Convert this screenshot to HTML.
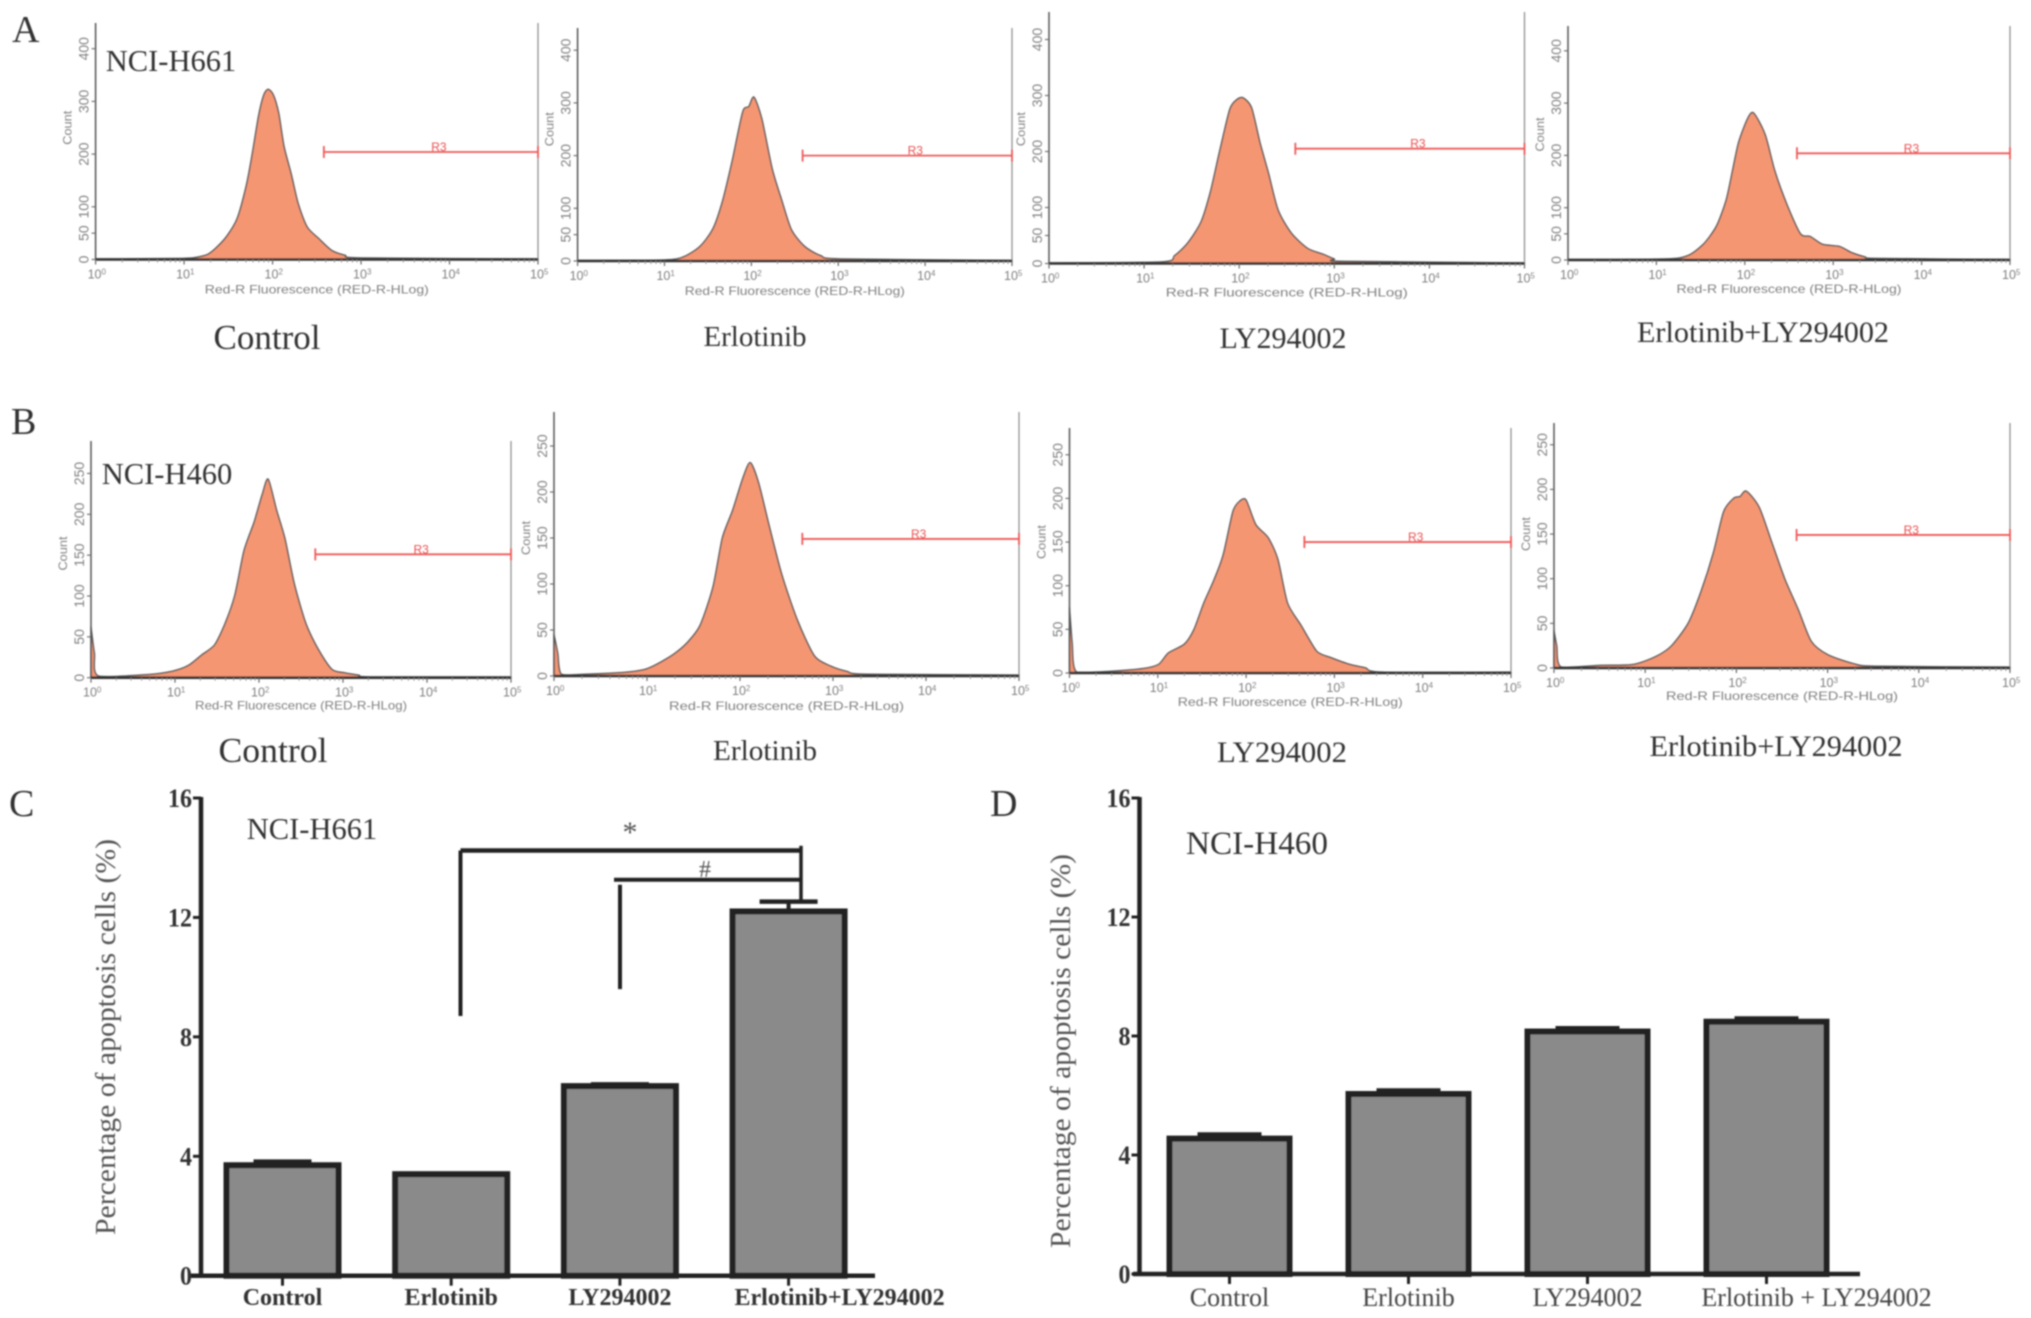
<!DOCTYPE html>
<html lang="en">
<head>
<meta charset="utf-8">
<title>Apoptosis flow cytometry and bar charts</title>
<style>
html,body{margin:0;padding:0;background:#fff;width:2031px;height:1318px;overflow:hidden}
svg{display:block}
text{font-family:"Liberation Serif",serif}
.flow{font-family:"Liberation Sans",sans-serif;fill:#808080}
.big{fill:#333;text-anchor:middle}
</style>
</head>
<body>
<svg id="figure" xmlns="http://www.w3.org/2000/svg" width="2031" height="1318" viewBox="0 0 2031 1318">
<defs><filter id="soft" x="0" y="0" width="100%" height="100%"><feGaussianBlur stdDeviation="0.7"/></filter></defs>
<rect width="2031" height="1318" fill="#fff"/>
<g id="root" filter="url(#soft)">
<text x="12" y="42" font-size="38" fill="#333">A</text>
<text x="11" y="434" font-size="38" fill="#333">B</text>
<text x="9" y="816" font-size="38" fill="#333">C</text>
<text x="990" y="816" font-size="38" fill="#333">D</text>

<text class="big" x="171" y="71" font-size="30.5">NCI-H661</text>
<text class="big" x="167" y="484" font-size="30.5">NCI-H460</text>
<text class="big" x="312" y="839" font-size="30.5" fill="#444">NCI-H661</text>
<text class="big" x="1257" y="854" font-size="33" fill="#444" textLength="142" lengthAdjust="spacingAndGlyphs">NCI-H460</text>

<text class="big" x="267" y="349" font-size="35">Control</text>
<text class="big" x="755" y="346" font-size="29">Erlotinib</text>
<text class="big" x="1283" y="348" font-size="30">LY294002</text>
<text class="big" x="1763" y="342" font-size="30" textLength="252" lengthAdjust="spacingAndGlyphs">Erlotinib+LY294002</text>
<text class="big" x="273" y="762" font-size="35" textLength="109" lengthAdjust="spacingAndGlyphs">Control</text>
<text class="big" x="765" y="760" font-size="29" textLength="104" lengthAdjust="spacingAndGlyphs">Erlotinib</text>
<text class="big" x="1282" y="762" font-size="30" textLength="130" lengthAdjust="spacingAndGlyphs">LY294002</text>
<text class="big" x="1776" y="756" font-size="30" textLength="253" lengthAdjust="spacingAndGlyphs">Erlotinib+LY294002</text>

<g id="flow-panels"></g>
<g id="bar-charts"></g>

<text x="630" y="842" font-size="30" fill="#555" text-anchor="middle">*</text>
<text x="705" y="877" font-size="24" fill="#555" text-anchor="middle">#</text>
</g>
</svg>
<script>
// ---------- Flow cytometry histogram data (log10 fluorescence, event count) ----------
const a1Log=[0,0.98,1.13,1.27,1.38,1.49,1.6,1.7,1.77,1.84,1.9,1.95,2.01,2.07,2.13,2.21,2.29,2.39,2.52,2.67,2.82,3,5];
const a1Count=[1,2,4,10,25,46,78,138,200,271,312,323,312,277,214,163,106,62,40,17,8,3,1];
const a2Log=[0,1,1.22,1.41,1.56,1.67,1.78,1.9,1.97,2.03,2.12,2.24,2.35,2.46,2.61,2.8,3.03,5];
const a2Count=[1,2,8,28,62,115,190,283,293,311,270,175,115,60,28,10,4,1];
const a3Log=[0,1.19,1.32,1.46,1.6,1.7,1.8,1.9,1.97,2.04,2.13,2.22,2.31,2.41,2.55,2.72,2.89,3,3.09,5];
const a3Count=[1,3,14,37,75,130,205,275,292,296,278,215,160,95,54,27,16,8,4,1];
const a4Log=[0,1.09,1.35,1.53,1.68,1.79,1.86,1.93,2.03,2.1,2.23,2.34,2.48,2.63,2.74,2.88,3.07,3.21,3.36,3.5,5];
const a4Count=[1,2,8,30,65,115,170,225,270,281,240,170,105,50,45,30,26,14,6,3,1];
const b1Log=[0,0.04,0.09,0.7,0.97,1.16,1.32,1.47,1.59,1.71,1.82,1.94,2.04,2.11,2.21,2.31,2.42,2.56,2.71,2.87,3.02,3.19,3.33,5];
const b1Count=[62,30,2,4,8,15,28,40,65,100,155,190,225,243,205,170,115,66,34,10,6,3,1,1];
const b2Log=[0,0.04,0.08,0.34,0.76,0.97,1.11,1.29,1.43,1.57,1.71,1.81,1.92,2.03,2.11,2.2,2.31,2.45,2.62,2.8,2.97,3.15,3.36,5];
const b2Count=[45,25,2,2,4,7,13,24,36,55,97,150,180,215,232,210,165,110,60,22,11,5,2,1];
const b3Log=[0,0.03,0.08,0.46,0.83,1.01,1.12,1.3,1.41,1.52,1.63,1.74,1.85,1.93,2,2.11,2.25,2.36,2.47,2.62,2.8,2.95,3.17,3.35,3.54,5];
const b3Count=[75,35,1,2,5,10,23,33,50,80,105,135,185,197,198,170,155,130,80,55,25,18,10,6,1,1];
const b4Log=[0,0.03,0.08,0.51,0.87,1.12,1.29,1.47,1.61,1.75,1.86,1.97,2.04,2.11,2.25,2.39,2.53,2.68,2.82,3,3.28,3.53,5];
const b4Count=[42,25,1,3,4,13,25,50,85,130,175,190,192,198,180,140,100,65,30,15,5,2,1];

// Gate R3 start (log10) and drawn level (count), one per histogram
const gateStartLog=[2.58,2.59,2.59,2.59,2.67,2.67,2.66,2.66];
const gateLevel=[204,200,205,204,151,149,150,149];

// Axis ticks
const xDecades=[0,1,2,3,4,5];
const yTicksA=[0,50,100,200,300,400];
const yTicksB=[0,50,100,150,200,250];
const xTitleText='Red-R Fluorescence (RED-R-HLog)';

// ---------- Bar chart data ----------
const cCategories=['Control','Erlotinib','LY294002','Erlotinib+LY294002'];
const cValues=[3.7,3.4,6.35,12.2];
const cErrors=[0.12,0,0.06,0.33];
const dCategories=['Control','Erlotinib','LY294002','Erlotinib + LY294002'];
const dValues=[4.55,6.05,8.15,8.48];
const dErrors=[0.14,0.12,0.11,0.11];
const barTicks=[0,4,8,12,16];
const yTitleText='Percentage of apoptosis cells (%)';

// Significance brackets in data units [top level, lower end of the left arm]
const bracketOuter=[14.24,8.7];
const bracketInner=[13.26,9.6];

// ---------- Panel layouts ----------
const flowLayouts=[
 {id:'a-control',log:a1Log,count:a1Count,ticks:yTicksA,x0:95.6,x1:538,base:259.5,top:23,perCount:0.527,countAt:250,titleDy:34,titleW:224},
 {id:'a-erlotinib',log:a2Log,count:a2Count,ticks:yTicksA,x0:577.6,x1:1012,base:261,top:28,perCount:0.527,countAt:250,titleDy:34,titleW:220},
 {id:'a-ly294002',log:a3Log,count:a3Count,ticks:yTicksA,x0:1049,x1:1524.5,base:263.5,top:12,perCount:0.56,countAt:240,titleDy:33,titleW:242},
 {id:'a-combination',log:a4Log,count:a4Count,ticks:yTicksA,x0:1568,x1:2010,base:260,top:26,perCount:0.523,countAt:240,titleDy:33,titleW:225},
 {id:'b-control',log:b1Log,count:b1Count,ticks:yTicksB,x0:91,x1:511,base:677.7,top:441,perCount:0.817,countAt:152,titleDy:32,titleW:212},
 {id:'b-erlotinib',log:b2Log,count:b2Count,ticks:yTicksB,x0:554,x1:1019,base:676,top:412,perCount:0.92,countAt:150,titleDy:34,titleW:235},
 {id:'b-ly294002',log:b3Log,count:b3Count,ticks:yTicksB,x0:1069.5,x1:1511,base:673,top:428,perCount:0.873,countAt:150,titleDy:33,titleW:225},
 {id:'b-combination',log:b4Log,count:b4Count,ticks:yTicksB,x0:1554,x1:2010,base:668,top:423,perCount:0.893,countAt:150,titleDy:32,titleW:232}
];

const NS='http://www.w3.org/2000/svg';
function make(parent,tag,attrs,text){
  const el=document.createElementNS(NS,tag);
  for(const k in attrs){el.setAttribute(k,attrs[k]);}
  if(text!==undefined){el.textContent=text;}
  parent.appendChild(el);
  return el;
}
// Smooth curve through histogram points, clamped so it never dips under the baseline
function smoothPath(pts,base){
  let d='';
  for(let i=0;i<pts.length-1;i++){
    const p0=pts[Math.max(i-1,0)],p1=pts[i],p2=pts[i+1],p3=pts[Math.min(i+2,pts.length-1)];
    const c1x=p1[0]+(p2[0]-p0[0])/8, c1y=Math.min(p1[1]+(p2[1]-p0[1])/8,base);
    const c2x=p2[0]-(p3[0]-p1[0])/8, c2y=Math.min(p2[1]-(p3[1]-p1[1])/8,base);
    d+=' C'+c1x.toFixed(1)+' '+c1y.toFixed(1)+' '+c2x.toFixed(1)+' '+c2y.toFixed(1)+' '+p2[0].toFixed(1)+' '+p2[1].toFixed(1);
  }
  return d;
}

// ---------- Flow panels ----------
const flowRoot=document.getElementById('flow-panels');
flowLayouts.forEach(function(p,i){
  const xScale=function(v){return p.x0+v*(p.x1-p.x0)/5;};
  const yScale=function(v){return p.base-v*p.perCount;};
  const g=make(flowRoot,'g',{});
  
  

  const pts=p.log.map(function(v,j){return [xScale(v),yScale(p.count[j])];});
  let d='M'+pts[0][0].toFixed(1)+' '+p.base+' L'+pts[0][0].toFixed(1)+' '+pts[0][1].toFixed(1);
  d+=smoothPath(pts,p.base);
  d+=' L'+pts[pts.length-1][0].toFixed(1)+' '+p.base+' Z';
  const hist=make(g,'path',{d:d,fill:'#f59673',stroke:'#555','stroke-width':1.4,'stroke-linejoin':'round'});
  
  

  const yAxis=make(g,'line',{x1:p.x0,x2:p.x0,y1:p.top,y2:p.base,stroke:'#555','stroke-width':1.5});
  
  
  const rightEdge=make(g,'line',{x1:p.x1,x2:p.x1,y1:p.top,y2:p.base,stroke:'#888','stroke-width':1.2});
  
  
  const baseline=make(g,'line',{x1:p.x0,x2:p.x1,y1:p.base,y2:p.base,stroke:'#333','stroke-width':2.6});
  
  

  xDecades.forEach(function(dec){
    const x=xScale(dec);
    make(g,'line',{x1:x,x2:x,y1:p.base,y2:p.base+5,stroke:'#666','stroke-width':1.2});
    if(dec<5){
      for(let m=2;m<10;m++){
        const mx=xScale(dec+Math.log10(m));
        make(g,'line',{x1:mx,x2:mx,y1:p.base,y2:p.base+3,stroke:'#888','stroke-width':0.9});
      }
    }
    const lab=make(g,'text',{x:x-8,y:p.base+19,class:'flow','font-size':12.5});
    
    
    make(lab,'tspan',{},'10');
    make(lab,'tspan',{dy:-4,'font-size':8},String(dec));
  });

  p.ticks.forEach(function(t){
    const y=yScale(t);
    make(g,'line',{x1:p.x0-4,x2:p.x0,y1:y,y2:y,stroke:'#666','stroke-width':1.1});
    const lab=make(g,'text',{x:p.x0-7,y:y,class:'flow','font-size':14,'text-anchor':'middle',transform:'rotate(-90 '+(p.x0-7)+' '+y+')'},String(t));
    
    
  });

  const cx=p.x0-24, cy=yScale(p.countAt);
  const countLab=make(g,'text',{x:cx,y:cy,class:'flow','font-size':11.5,'text-anchor':'middle',transform:'rotate(-90 '+cx+' '+cy+')',textLength:34,lengthAdjust:'spacingAndGlyphs'},'Count');
  
  

  const xt=make(g,'text',{x:(p.x0+p.x1)/2,y:p.base+p.titleDy,class:'flow','font-size':12,'text-anchor':'middle',textLength:p.titleW,lengthAdjust:'spacingAndGlyphs'},xTitleText);
  
  

  const gx=xScale(gateStartLog[i]), gy=yScale(gateLevel[i]);
  const gate=make(g,'path',{d:'M'+gx+' '+(gy-6)+' V'+(gy+6)+' M'+gx+' '+gy+' H'+p.x1+' M'+p.x1+' '+(gy-6)+' V'+(gy+6),fill:'none',stroke:'#ef5a5a','stroke-width':1.8});
  
  
  const gl=make(g,'text',{x:(gx+p.x1)/2+8,y:gy-1,'font-size':12,fill:'#e85050','text-anchor':'middle',style:'font-family:"Liberation Sans",sans-serif'},'R3');
  
  
});

// ---------- Bar charts ----------
const barRoot=document.getElementById('bar-charts');
function drawBars(cfg){
  const g=make(barRoot,'g',{});
  
  
  const yScale=function(v){return cfg.base-v*(cfg.base-cfg.top)/16;};
  const xScale=function(i){return cfg.firstX+i*cfg.stepX;};
  const half=cfg.barW/2;

  cfg.values.forEach(function(v,i){
    const x=xScale(i), y=yScale(v), e=cfg.errors[i];
    if(e>0){
      const stem=make(g,'line',{x1:x,x2:x,y1:y,y2:yScale(v+e),stroke:'#222','stroke-width':4});
      
      
      const cap=make(g,'line',{x1:x-cfg.capW/2,x2:x+cfg.capW/2,y1:yScale(v+e),y2:yScale(v+e),stroke:'#222','stroke-width':4.5});
      
      
    }
    const bar=make(g,'rect',{x:x-half,y:y,width:cfg.barW,height:cfg.base-y,fill:'#8a8a8a',stroke:'#222','stroke-width':6});
    
    
    const tick=make(g,'line',{x1:x,x2:x,y1:cfg.base,y2:cfg.base+10,stroke:'#222','stroke-width':3});
    
    
    const labX=x+(i===cfg.values.length-1?cfg.lastLabelShift:0);
    const lab=make(g,'text',{x:labX,y:cfg.labelY,'font-size':cfg.labelSize,'font-weight':cfg.labelWeight,fill:cfg.labelFill,'text-anchor':'middle'},cfg.categories[i]);
    
    
  });

  const yAxis=make(g,'line',{x1:cfg.axisX,x2:cfg.axisX,y1:cfg.top-1,y2:cfg.base+2,stroke:'#222','stroke-width':4.5});
  
  
  const xAxis=make(g,'line',{x1:cfg.xAxisStart,x2:cfg.xAxisEnd,y1:cfg.base,y2:cfg.base,stroke:'#222','stroke-width':4.5});
  
  

  barTicks.forEach(function(t){
    const y=yScale(t);
    const tk=make(g,'line',{x1:cfg.axisX-8,x2:cfg.axisX,y1:y,y2:y,stroke:'#222','stroke-width':3});
    
    
    const lab=make(g,'text',{x:cfg.axisX-9,y:y+9,'font-size':26,'font-weight':'bold',fill:'#333','text-anchor':'end',textLength:String(t).length*12,lengthAdjust:'spacingAndGlyphs'},String(t));
    
    
  });

  const ty=cfg.titleMid;
  const title=make(g,'text',{x:cfg.titleX,y:ty,'font-size':29,fill:'#555','text-anchor':'middle',transform:'rotate(-90 '+cfg.titleX+' '+ty+')',textLength:cfg.titleLen,lengthAdjust:'spacingAndGlyphs'},yTitleText);
  
  
  return {xScale:xScale,yScale:yScale,group:g};
}

const chartC=drawBars({id:'c',categories:cCategories,values:cValues,errors:cErrors,base:1275.7,top:798,firstX:282.5,stepX:168.7,barW:112,capW:58,axisX:201,xAxisStart:191,xAxisEnd:875,labelY:1305,labelSize:24,labelWeight:'bold',labelFill:'#333',lastLabelShift:51,titleX:115,titleMid:1037,titleLen:396});
const chartD=drawBars({id:'d',categories:dCategories,values:dValues,errors:dErrors,base:1274,top:798,firstX:1229.5,stepX:179,barW:120,capW:64,axisX:1139.5,xAxisStart:1133,xAxisEnd:1860,labelY:1306,labelSize:26,labelWeight:'normal',labelFill:'#444',lastLabelShift:50,titleX:1070,titleMid:1051,titleLen:394});

// Significance brackets on chart C
function bracket(name,leftX,rightX,levels,width){
  const y=chartC.yScale(levels[0]);
  const h=make(chartC.group,'line',{x1:leftX,x2:rightX,y1:y,y2:y,stroke:'#222','stroke-width':width});
  
  
  const v=make(chartC.group,'line',{x1:leftX+(name==='bracket-inner'?6:0),x2:leftX+(name==='bracket-inner'?6:0),y1:y+(name==='bracket-inner'?5:0),y2:chartC.yScale(levels[1]),stroke:'#222','stroke-width':4});
  
  
}
bracket('bracket-outer',460.5,801,bracketOuter,4.5);
bracket('bracket-inner',614,801,bracketInner,4);
const rightArm=make(chartC.group,'line',{x1:801,x2:801,y1:chartC.yScale(14.4),y2:chartC.yScale(12.6),stroke:'#222','stroke-width':3.5});


</script>
</body>
</html>
